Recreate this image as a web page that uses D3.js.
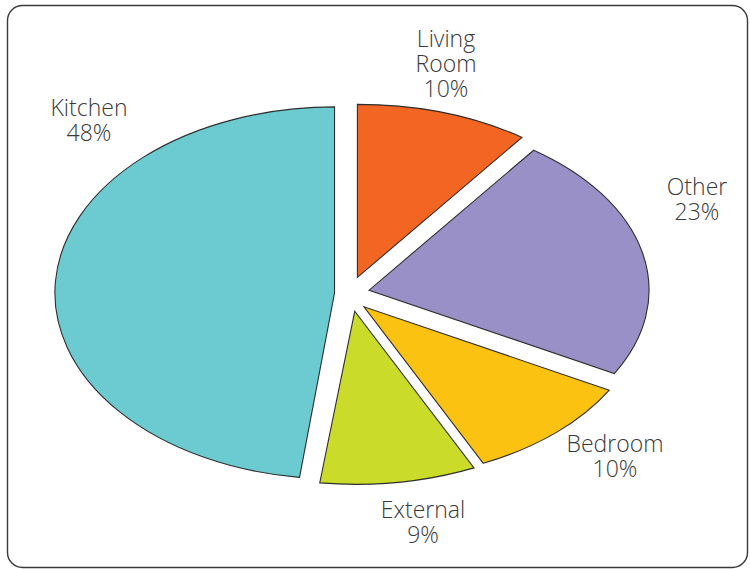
<!DOCTYPE html>
<html>
<head>
<meta charset="utf-8">
<script src="https://cdn.jsdelivr.net/npm/d3@7"></script>
<style>
  html, body { margin: 0; padding: 0; background: #fff; }
  svg { display: block; }
  text { font-family: "Open Sans", "Noto Sans", "DejaVu Sans", sans-serif; font-weight: 300; }
</style>
</head>
<body>
<svg id="chart" width="750" height="569"></svg>
<script>
// ---- data (clockwise from 12 o'clock) ----
const categories = ["Living Room", "Other", "Bedroom", "External", "Kitchen"];
const values = [10, 23, 10, 9, 48];
const labelLines = [["Living", "Room", "10%"], ["Other", "23%"], ["Bedroom", "10%"], ["External", "9%"], ["Kitchen", "48%"]];
const colors = ["#f26522", "#9890c6", "#fcc212", "#cbdb2a", "#6ccbd1"];

// ---- layout ----
const W = 750, H = 569;
const center = [352, 294];
const rx = 280, ry = 173;
const explode = 17.5;
const yStretch = { "Kitchen": 186 / 173 };
// label anchor (x center, first baseline)
const labelPos = {
  "Living Room": [446, 46.5],
  "Other": [697, 195],
  "Bedroom": [615, 452],
  "External": [423, 518],
  "Kitchen": [89, 116]
};
const lineH = 25;

const svg = d3.select("#chart");

svg.append("rect")
  .attr("x", 7.5).attr("y", 5.5)
  .attr("width", 740).attr("height", 562)
  .attr("rx", 15).attr("ry", 15)
  .attr("fill", "#fff")
  .attr("stroke", "#3a3a3a")
  .attr("stroke-width", 1.4);

const pie = d3.pie().sort(null).value(d => d.value);
const arcs = pie(categories.map((c, i) => ({ cat: c, value: values[i], color: colors[i] })));
const arc = d3.arc().innerRadius(0).outerRadius(1);

svg.append("g").selectAll("path")
  .data(arcs)
  .join("path")
  .attr("d", arc)
  .attr("transform", d => {
    const m = (d.startAngle + d.endAngle) / 2;
    const ox = center[0] + explode * Math.sin(m);
    const oy = center[1] - explode * Math.cos(m);
    const sy = ry * (yStretch[d.data.cat] || 1);
    return `translate(${ox},${oy}) scale(${rx},${sy})`;
  })
  .attr("fill", d => d.data.color)
  .attr("stroke", "#2e2e2e")
  .attr("stroke-width", 1.1)
  .attr("vector-effect", "non-scaling-stroke");

const lg = svg.append("g");
categories.forEach((c, i) => {
  const [x, y] = labelPos[c];
  const t = lg.append("text")
    .attr("x", x).attr("y", y)
    .attr("text-anchor", "middle")
    .attr("font-size", 23)
    .attr("fill", "#3a3a3a");
  labelLines[i].forEach((ln, j) => {
    t.append("tspan").attr("x", x).attr("y", y + j * lineH).text(ln);
  });
});
</script>
</body>
</html>
